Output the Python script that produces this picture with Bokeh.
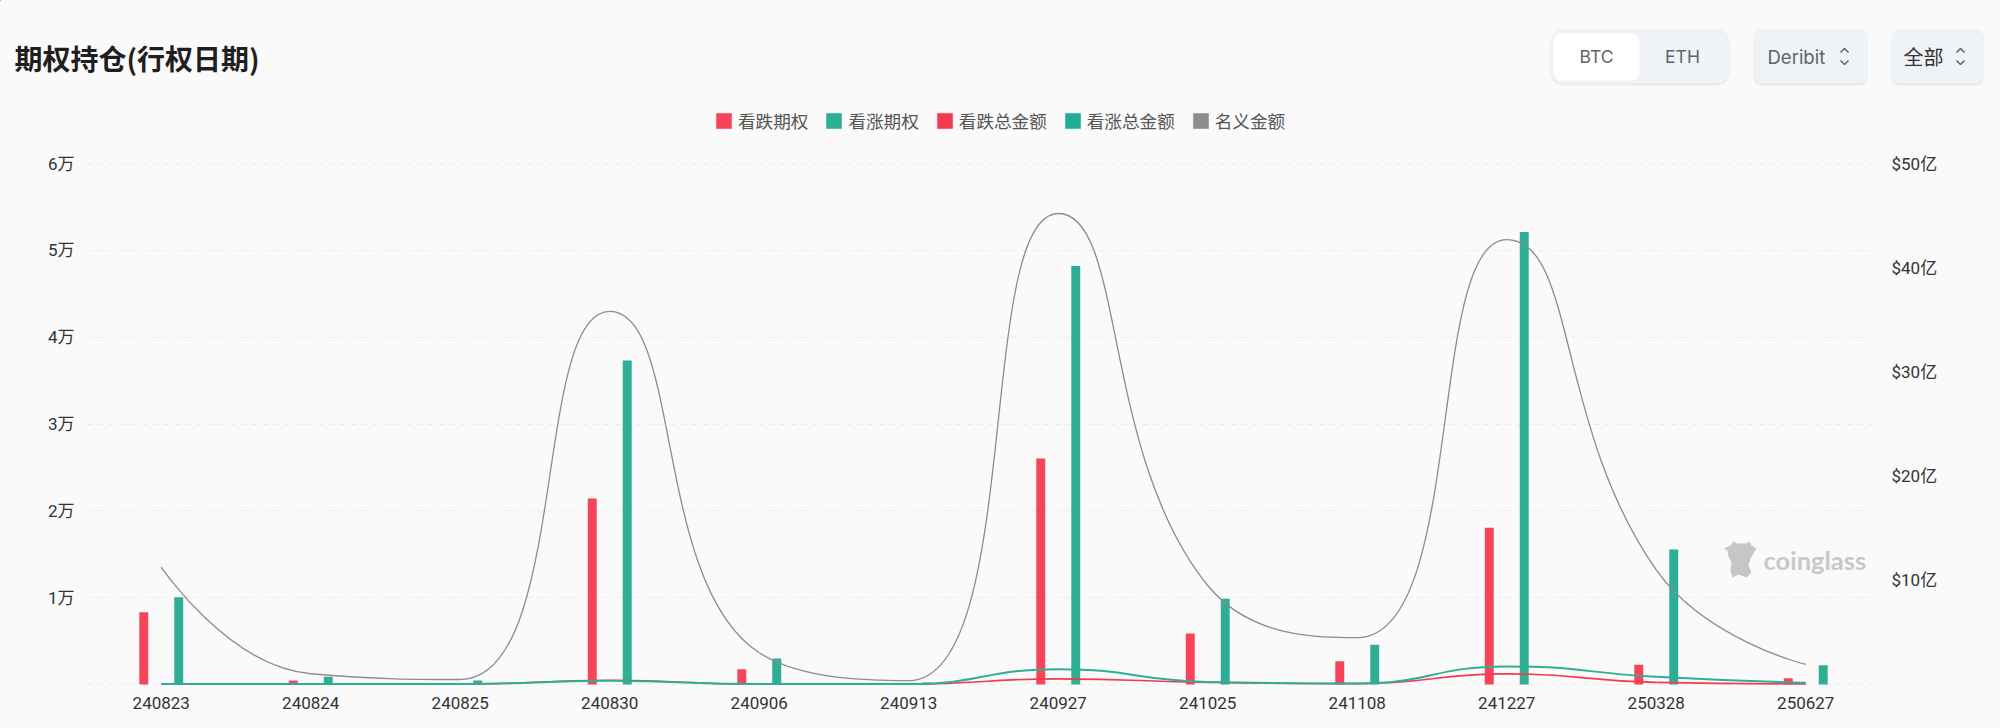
from bokeh.embed import file_html
from bokeh.resources import INLINE
from bokeh.layouts import column
from bokeh.plotting import figure
from bokeh.models import (Range1d, LinearAxis, FactorRange, Legend, LegendItem, Label,
                          BoxAnnotation, PolyAnnotation, ColumnDataSource, FixedTicker)
from bokeh.transform import dodge

# ---------- data ----------
expiries = ["240823", "240824", "240825", "240830", "240906", "240913",
            "240927", "241025", "241108", "241227", "250328", "250627"]
put_oi = [8330, 460, 40, 21430, 1770, 60, 26040, 5870, 2690, 18050, 2270, 720]
call_oi = [10050, 880, 460, 37300, 3000, 230, 48200, 9870, 4570, 52100, 15550, 2220]
# amounts in 亿 USD (right axis)
put_total = [0.03, 0.03, 0.03, 0.41, 0.03, 0.03, 0.54, 0.20, 0.08, 1.02, 0.20, 0.06]
call_total = [0.05, 0.05, 0.05, 0.35, 0.05, 0.05, 1.47, 0.25, 0.10, 1.73, 0.74, 0.16]
notional = [11.26, 1.03, 0.48, 35.8, 3.05, 0.38, 45.2, 9.5, 4.5, 42.7, 11.0, 1.92]

left_ticks = [0, 10000, 20000, 30000, 40000, 50000, 60000]
left_labels = ["", "1万", "2万", "3万", "4万", "5万", "6万"]
right_ticks = [0, 10, 20, 30, 40, 50]
right_labels = ["", "$10亿", "$20亿", "$30亿", "$40亿", "$50亿"]

title_text = "期权持仓(行权日期)"
legend_labels = ["看跌期权", "看涨期权", "看跌总金额", "看涨总金额", "名义金额"]

RED = "#f6455a"
RED_LINE = "#f5394c"
GREEN = "#2fae96"
GRAY = "#8c8c8c"
BG = "#fafafa"
NUM_FONT = "Roboto, 'Noto Sans CJK SC'"
CJK_FONT = "'Noto Sans CJK SC'"

# ---------- layout constants (page pixels) ----------
W = 2000
HEADER_H = 140
MAIN_H = 588
X0, X1 = 86, 1880     # plot area left/right
Y_TOP, Y_ZERO = 163, 684  # 6万 line and 0 line
PAD = 2               # spare pixels so the outermost grid lines are not clipped
LEFT_PX = (Y_ZERO - Y_TOP) / 60000.0
RIGHT_PX = (Y_ZERO - Y_TOP) / 50.0

# ---------- main figure ----------
p = figure(width=W, height=MAIN_H, output_backend="svg", toolbar_location=None,
           x_range=FactorRange(factors=expiries, range_padding=0, factor_padding=0, group_padding=0),
           y_range=Range1d(-PAD / LEFT_PX, 60000 + PAD / LEFT_PX),
           min_border_left=X0, min_border_right=W - X1,
           min_border_top=Y_TOP - HEADER_H - PAD, min_border_bottom=HEADER_H + MAIN_H - Y_ZERO - PAD,
           background_fill_color=BG, border_fill_color=BG, outline_line_color=None)
p.extra_y_ranges = {"amount": Range1d(-PAD / RIGHT_PX, 50 + PAD / RIGHT_PX)}

p.xgrid.visible = False
p.ygrid.ticker = FixedTicker(ticks=left_ticks)
p.ygrid.grid_line_color = "#ececec"
p.ygrid.grid_line_dash = "6 5"
p.ygrid.grid_line_width = 1

for ax in (p.yaxis[0], p.xaxis[0]):
    ax.axis_line_color = None
    ax.major_tick_line_color = None
    ax.minor_tick_line_color = None
    ax.major_label_text_font = NUM_FONT
    ax.major_label_text_color = "#333333"
    ax.major_label_text_font_size = "17px"

p.yaxis[0].ticker = FixedTicker(ticks=left_ticks)
p.yaxis[0].major_label_overrides = dict(zip(left_ticks, left_labels))
p.yaxis[0].major_label_standoff = 6
p.xaxis[0].major_label_standoff = 4
p.xaxis[0].major_label_orientation = "horizontal"

right = LinearAxis(y_range_name="amount", ticker=FixedTicker(ticks=right_ticks),
                   axis_line_color=None, major_tick_line_color=None, minor_tick_line_color=None,
                   major_label_text_font=NUM_FONT, major_label_text_color="#333333",
                   major_label_text_font_size="17px", major_label_standoff=5)
right.major_label_overrides = dict(zip(right_ticks, right_labels))
p.add_layout(right, "right")

# ---------- bars ----------
src = ColumnDataSource(dict(exp=expiries, put=put_oi, call=call_oi))
p.vbar(x=dodge("exp", -0.117, range=p.x_range), top="put", width=0.06, source=src,
       color=RED, line_width=0)
p.vbar(x=dodge("exp", 0.117, range=p.x_range), top="call", width=0.06, source=src,
       color=GREEN, line_width=0)

# ---------- smooth lines (same control-point rule as the original chart's spline) ----------
CAT_PX = (X1 - X0) / len(expiries)


def spline_segments(values, smooth=0.5):
    n = len(values)
    xs = [(i + 0.5) * CAT_PX for i in range(n)]
    ys = [v * RIGHT_PX for v in values]
    out = {"x0": [], "y0": [], "x1": [], "y1": [], "cx0": [], "cy0": [], "cx1": [], "cy1": []}
    next_cp = (xs[0], ys[0])

    def clamp(v, a, b):
        return max(min(v, max(a, b)), min(a, b))

    for i in range(1, n):
        x, y = xs[i], ys[i]
        px, py = xs[i - 1], ys[i - 1]
        if i < n - 1:
            nx, ny = xs[i + 1], ys[i + 1]
            l0 = ((x - px) ** 2 + (y - py) ** 2) ** 0.5
            l1 = ((nx - x) ** 2 + (ny - y) ** 2) ** 0.5
            r = l1 / (l0 + l1)
            ncx = clamp(x + (nx - px) * smooth * r, x, nx)
            ncy = clamp(y + (ny - py) * smooth * r, y, ny)
            vx, vy = ncx - x, ncy - y
            cx = clamp(x - vx * l0 / l1, px, x)
            cy = clamp(y - vy * l0 / l1, py, y)
            vx, vy = x - cx, y - cy
            after = (x + vx * l1 / l0, y + vy * l1 / l0)
        else:
            cx, cy = x, y
            after = (x, y)
        for k, v in (("x0", px), ("y0", py), ("x1", x), ("y1", y),
                     ("cx0", next_cp[0]), ("cy0", next_cp[1]), ("cx1", cx), ("cy1", cy)):
            out[k].append(v)
        next_cp = after
    for k in ("x0", "x1", "cx0", "cx1"):
        out[k] = [v / CAT_PX for v in out[k]]
    for k in ("y0", "y1", "cy0", "cy1"):
        out[k] = [v / RIGHT_PX for v in out[k]]
    return out


# numeric x on the categorical range: category i has its centre at i + 0.5
for values, color, lw in ((put_total, RED_LINE, 1.6), (call_total, GREEN, 2.0), (notional, GRAY, 1.3)):
    seg = spline_segments(values)
    p.bezier(x0=seg["x0"], y0=seg["y0"], x1=seg["x1"], y1=seg["y1"],
             cx0=seg["cx0"], cy0=seg["cy0"], cx1=seg["cx1"], cy1=seg["cy1"],
             line_color=color, line_width=lw, y_range_name="amount")

# ---------- header figure: its frame is the whole canvas ----------
h = figure(width=W, height=HEADER_H, output_backend="svg", toolbar_location=None,
           x_range=Range1d(0, W), y_range=Range1d(HEADER_H, 0),
           min_border=0, min_border_left=0, min_border_right=0, min_border_top=0, min_border_bottom=0,
           background_fill_color=BG, border_fill_color=BG, outline_line_color=None)
h.xaxis.visible = False
h.yaxis.visible = False
h.grid.visible = False

# legend proxies: one off-canvas bar each, so that every item shows a square swatch
swatches = []
for c in (RED, GREEN, RED_LINE, "#1fae93", GRAY):
    swatches.append(h.vbar(x=[-100], top=[-100], bottom=[-110], width=1,
                           fill_color=c, line_color=c, line_alpha=0.45, line_width=1))
# a bar's swatch fills 80% of the glyph box: 19px box gives the 15px square
legend = Legend(items=[LegendItem(label=t, renderers=[r]) for t, r in zip(legend_labels, swatches)],
                orientation="horizontal", location=(714, HEADER_H - 133),
                glyph_width=19, glyph_height=19, label_standoff=5, spacing=16, padding=0, margin=0,
                border_line_color=None, background_fill_alpha=0,
                label_text_font=CJK_FONT, label_text_font_size="17.6px", label_text_color="#555555",
                label_height=19, label_width=10)
h.add_layout(legend, "center")


def box(fig, l, t, r, b, fill, radius=8, line=None, alpha=1.0, top_offset=0):
    fig.add_layout(BoxAnnotation(left=l, right=r, top=t - top_offset, bottom=b - top_offset,
                                 left_units="canvas", right_units="canvas", top_units="canvas", bottom_units="canvas",
                                 fill_color=fill, fill_alpha=alpha, line_color=line, line_width=1,
                                 border_radius=radius, level="underlay", editable=False))


def text(fig, x, y, s, size, color="#5f6368", font="Inter", style="normal", align="left", top_offset=0):
    fig.add_layout(Label(x=x, y=y - top_offset, x_units="canvas", y_units="canvas", text=s,
                         text_font=font, text_font_size=f"{size}px", text_color=color, text_font_style=style,
                         text_align=align, text_baseline="middle", level="overlay"))


def shape(fig, xs, ys, fill, top_offset=0):
    fig.add_layout(PolyAnnotation(xs=xs, ys=[v - top_offset for v in ys], xs_units="canvas", ys_units="canvas",
                                  fill_color=fill, fill_alpha=1, line_color=None, level="overlay", editable=False))


text(h, 14, 57, title_text, 28, color="#1f1f1f", font=CJK_FONT, style="bold")

for l, r, rad in ((1550, 1729, 13), (1753, 1867, 8), (1891, 1983, 8)):
    box(h, l, 30, r, 85, "#e4e6ea", rad, alpha=0.8)
    box(h, l, 29, r, 83, "#eff2f6", rad, line="#e8ebef")
box(h, 1553, 33, 1639, 80, "#ffffff", 8)
text(h, 1596, 56, "BTC", 17.5, align="center")
text(h, 1682, 56, "ETH", 17.5, align="center")
text(h, 1767, 56, "Deribit", 18.5)
text(h, 1903, 56, "全部", 20, color="#333333", font=CJK_FONT)
for cx in (1844, 1960):
    h.line([cx - 4, cx, cx + 4], [52, 48, 52], line_color="#5f6368", line_width=1.5)
    h.line([cx - 4, cx, cx + 4], [60, 64, 60], line_color="#5f6368", line_width=1.5)

# watermark (on the main figure)
shape(p, [1723, 1730, 1733, 1737, 1745, 1749, 1751, 1756, 1750, 1748, 1751, 1746, 1738, 1732, 1730, 1731, 1728, 1727],
      [548, 545, 541, 543, 543, 541, 545, 548, 558, 565, 572, 577, 574, 577, 570, 562, 556, 550],
      fill="#c6c6c6", top_offset=HEADER_H)
text(p, 1763, 559, "coinglass", 25.5, color="#c8c8c8", font="Lato", style="bold", top_offset=HEADER_H)

page = column(column(h), column(p), spacing=0)
html = file_html(page, INLINE)
html = html.replace("</head>", "<style>html,body{background:#fafafa;margin:0;overflow:hidden}</style></head>", 1)
open("out.html", "w").write(html)
